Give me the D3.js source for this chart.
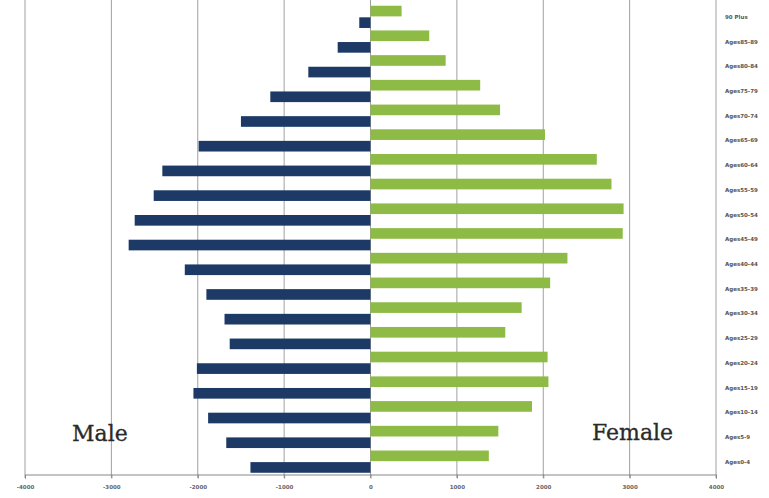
<!DOCTYPE html>
<html>
<head>
<meta charset="utf-8">
<script src="https://cdn.jsdelivr.net/npm/d3@7"></script>
<style>
  body { margin: 0; background: #fff; }
  svg { display: block; }
</style>
</head>
<body>
<svg id="chart" width="769" height="498"></svg>
<script>
const ageGroups = ["90 Plus", "Ages85-89", "Ages80-84", "Ages75-79", "Ages70-74", "Ages65-69",
  "Ages60-64", "Ages55-59", "Ages50-54", "Ages45-49", "Ages40-44", "Ages35-39", "Ages30-34",
  "Ages25-29", "Ages20-24", "Ages15-19", "Ages10-14", "Ages5-9", "Ages0-4"];
const male = [130, 380, 720, 1160, 1500, 1990, 2410, 2510, 2730, 2800, 2150, 1900, 1690,
  1630, 2010, 2050, 1880, 1670, 1390];
const female = [360, 680, 870, 1270, 1500, 2020, 2620, 2790, 2930, 2920, 2280, 2080, 1750,
  1560, 2050, 2060, 1870, 1480, 1370];
const tickValues = [-4000, -3000, -2000, -1000, 0, 1000, 2000, 3000, 4000];
const series = ["female", "male"];

const svg = d3.select("#chart");
const x = d3.scaleLinear().domain([-4000, 4000]).range([25, 716]);
const y = d3.scaleBand().domain(ageGroups).range([4.5, 474]).paddingInner(0.1).paddingOuter(0.05);
const sub = d3.scaleBand().domain(series).range([0, y.bandwidth()]).paddingInner(0.08);
const colors = { male: "#1d3a66", female: "#8dbb45" };

// gridlines
svg.append("g")
  .selectAll("line")
  .data(tickValues)
  .join("line")
  .attr("x1", d => x(d)).attr("x2", d => x(d))
  .attr("y1", 0).attr("y2", 478)
  .attr("stroke", "#a0a0a0")
  .attr("stroke-width", 1);

// bottom axis
const axis = svg.append("g").attr("transform", "translate(0,474.5)")
  .call(d3.axisBottom(x).tickValues(tickValues).tickSize(4).tickFormat(d => String(d)));
axis.select(".domain").attr("stroke", "#888");
axis.selectAll(".tick line").attr("stroke", "#888");
axis.selectAll(".tick text")
  .attr("y", 11)
  .attr("fill", "#666")
  .attr("font-family", "DejaVu Sans")
  .attr("font-weight", "bold")
  .attr("font-size", 5.5);

const rows = ageGroups.map((g, i) => ({ g, male: male[i], female: female[i] }));

// bars
svg.append("g")
  .selectAll("rect")
  .data(rows)
  .join("rect")
  .attr("x", d => x(-d.male))
  .attr("y", d => y(d.g) + sub("male"))
  .attr("width", d => x(0) - x(-d.male))
  .attr("height", sub.bandwidth())
  .attr("fill", colors.male);

svg.append("g")
  .selectAll("rect")
  .data(rows)
  .join("rect")
  .attr("x", x(0))
  .attr("y", d => y(d.g) + sub("female"))
  .attr("width", d => x(d.female) - x(0))
  .attr("height", sub.bandwidth())
  .attr("fill", colors.female);

// category labels on the right
svg.append("g")
  .selectAll("text")
  .data(ageGroups)
  .join("text")
  .attr("x", 725)
  .attr("y", d => y(d) + y.bandwidth() / 2 + 2)
  .attr("fill", "#555")
  .attr("font-family", "DejaVu Sans")
  .attr("font-weight", "bold")
  .attr("font-size", 5.5)
  .text(d => d);

// series labels
svg.append("text")
  .attr("x", 72).attr("y", 441)
  .attr("font-family", "DejaVu Serif")
  .attr("font-size", 22)
  .attr("fill", "#2a2a2a")
  .attr("stroke", "#2a2a2a").attr("stroke-width", 0.3)
  .text("Male");
svg.append("text")
  .attr("x", 592).attr("y", 440)
  .attr("font-family", "DejaVu Serif")
  .attr("font-size", 22)
  .attr("fill", "#2a2a2a")
  .attr("stroke", "#2a2a2a").attr("stroke-width", 0.3)
  .text("Female");
</script>
</body>
</html>
